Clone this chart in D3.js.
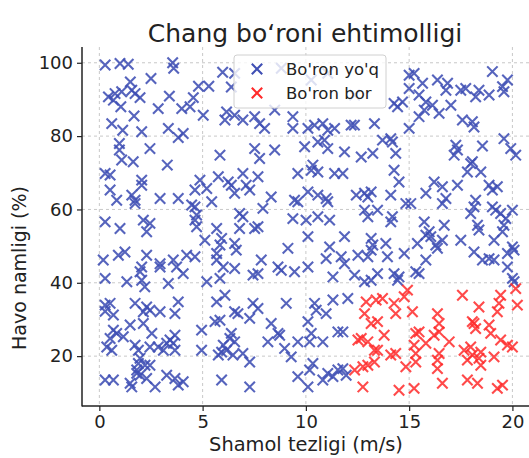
<!DOCTYPE html>
<html>
<head>
<meta charset="utf-8">
<script src="https://cdn.jsdelivr.net/npm/d3@7"></script>
<style>
  body { margin: 0; background: #fff; }
  text { font-family: "DejaVu Sans", sans-serif; fill: #222; }
</style>
</head>
<body>
<div id="chart-area"></div>
<script>
// wind speed (m/s), humidity (%) -- no storm
var noStorm = [
  [0.28,99.4],[1.0,99.8],[1.4,99.6],[3.55,100],[3.6,98.5],[5.97,97.4],[2.5,95.7],[1.5,94.8],[4.8,93.6],[5.3,93.6],
  [0.44,90.7],[0.76,91.6],[1.08,92.1],[1.57,92.5],[1.73,91.6],[1.97,90.5],[0.68,89.8],[3.39,90.9],[4.55,90.5],[1.04,88],
  [2.85,87.5],[3.99,87.5],[4.39,88],[5.03,85.7],[6.16,86.6],[6.08,84.4],[1.68,85.5],[0.6,83.4],[1.13,81.6],[2.05,81.2],
  [3.34,82.1],[3.82,79.6],[4.06,80.7],[0.97,78],[0.97,76.2],[2.45,76.6],[5.84,74.8],[1.08,73.5],[1.64,73],[3.29,72.1],
  [6.55,97.1],[8.81,98.5],[10.26,95.3],[11.06,97.1],[12.36,91.2],[6.39,93.4],
  [6.55,85.7],[6.95,84.4],[7.52,85.3],[7.76,83.4],[8.0,82.1],[8.49,87.1],[9.37,85.3],[9.37,82.1],[10.1,82.1],[10.42,83],
  [10.82,83.4],[11.06,81.6],[11.39,82.1],[12.19,83],[12.35,83],[13.32,83.4],[7.52,76.6],[8.49,76.2],[7.76,73.9],[9.94,77.1],
  [10.58,78.4],[10.9,78.9],[11.06,76.6],[11.87,75.7],[12.68,74.3],[13.24,75.3],[10.34,72.1],
  [19.03,97.6],[15.0,96.6],[15.24,97.1],[15.65,94.4],[16.37,95.3],[16.86,94.4],[15.0,93],[16.78,92.5],[17.5,92.5],[17.74,93],
  [18.22,90.7],[18.38,92.5],[18.87,91.2],[19.52,93.5],[19.76,95.3],[19.59,92.1],[15.48,91.2],[14.27,88.9],[14.68,89.3],[14.44,88],
  [15.81,89.3],[15.73,87.1],[16.13,88.4],[16.45,86.2],[17.02,88.4],[15.48,85.3],[15.0,82.1],[17.58,84.4],[18.06,83.9],[18.14,82.5],
  [13.71,78.9],[14.11,79.3],[14.19,78.4],[14.35,75.3],[17.26,77.5],[17.34,76.2],[17.18,74.8],[18.55,77.3],[19.59,79.3],[19.92,76.6],
  [20.16,74.8],[18.06,73],
  [0.28,69.8],[0.52,69.4],[2.05,68],[2.05,66.6],[0.52,65.3],[0.84,62.5],[1.57,63.9],[1.73,62.5],[1.73,61.6],[2.94,63],
  [3.82,63],[4.63,65.3],[4.87,68],[5.2,65.7],[5.76,68.9],[6.24,67.5],[5.44,62.1],[4.47,61.2],[4.63,60.7],[4.71,58.5],
  [4.63,57.1],[4.71,55.3],[0.28,56.6],[1.0,54.8],[2.13,57.1],[2.45,56.2],[2.29,53.9],[5.68,54.8],[5.92,52.1],[5.11,51.6],
  [5.84,50.3],[0.19,46.2],[0.92,47.5],[1.24,48.4],[2.29,47.5],[2.94,45.2],[2.94,44.3],[2.05,44.3],[1.97,43],[3.58,46.2],
  [3.74,44.3],[4.06,42.5],[4.23,47.5],[4.63,47.1],[5.68,48],[5.68,46.2],[6.0,44.3],[0.28,41.2],[1.33,40.3],[2.05,40.7],
  [5.2,40.3],[5.84,41.2],
  [6.95,69.8],[7.68,68.9],[9.61,69.8],[10.26,70.7],[10.58,70.2],[11.39,69.8],[11.79,69.8],[6.39,66.6],[7.11,66.6],[7.28,65.3],
  [6.55,64.4],[8.32,63.4],[7.92,60.3],[9.45,62.5],[9.61,62.1],[10.1,64.8],[10.58,63.9],[10.98,63],[11.06,62.1],[12.44,63.9],
  [12.84,64.4],[13.16,64.8],[13.0,63.4],[6.79,58.9],[6.95,58],[12.84,59.8],[13.0,58],[9.37,57.5],[10.01,57.1],[10.58,58],
  [11.15,57.1],[6.79,54.8],[7.52,54.8],[7.68,55.3],[10.1,52.6],[11.87,52.6],[6.55,50.7],[6.63,48.9],[9.13,49.4],[11.15,49.8],
  [13.16,52.1],[13.24,50.3],[13.16,48.9],[7.84,46.2],[10.98,46.6],[11.71,47.1],[11.87,45.2],[12.52,47.5],[13.0,47.1],[8.65,44.3],
  [8.81,43.4],[9.45,43],[10.1,44.3],[6.55,43.9],[7.44,42.1],[7.68,42.5],[11.31,41.6],[12.36,42.1],[13.16,40.7],
  [14.27,70.7],[14.51,67.5],[17.98,72.5],[17.82,70.2],[18.47,70.2],[16.21,67.5],[16.61,66.2],[17.34,66.6],[18.87,66.6],[19.27,66.2],
  [19.03,65.3],[14.11,63.9],[15.81,64.4],[16.78,63],[16.61,61.6],[14.84,61.6],[15.08,61.6],[18.22,62.5],[18.14,60.7],[17.98,58.9],
  [19.03,60.7],[19.19,59.8],[19.43,58.9],[20.0,59.8],[19.68,57.5],[13.47,59.8],[14.19,58],[14.11,56.6],[15.73,56.6],[16.7,55.7],
  [15.97,53.9],[15.81,53],[16.05,52.6],[18.31,55.7],[18.38,54.4],[19.59,55.7],[19.52,53.9],[15.4,50.7],[16.29,50.3],[16.61,51.6],
  [16.37,49.4],[17.5,51.6],[19.11,51.6],[20.0,49.8],[20.08,48.9],[19.76,48],[13.87,50.7],[13.95,47.1],[14.76,48],[15.81,46.2],
  [18.14,48.4],[18.55,46.2],[18.87,46.6],[19.11,46.2],[19.76,44.3],[14.27,42.5],[14.51,41.6],[15.32,43],[15.48,42.5],[20.0,41.2],
  [13.47,42.5],
  [2.2,38.9],[3.34,39.8],[0.28,33.9],[0.52,34.4],[0.28,32.2],[0.68,31.2],[1.73,34.4],[2.29,33.4],[2.45,32.5],[2.13,32.1],
  [2.94,32.1],[3.82,34.8],[3.66,31.6],[0.68,27.1],[0.84,26.2],[1.49,28.5],[2.13,28.9],[2.54,26.2],[0.52,24.8],[1.16,25.3],
  [0.36,22.5],[0.6,21.6],[1.73,23],[1.89,21.6],[1.97,19.4],[2.45,22.5],[2.85,22.5],[3.26,23.5],[3.42,24.4],[3.66,25.7],
  [3.58,23.5],[3.66,21.6],[3.1,21.6],[1.89,18],[2.21,17.5],[2.45,17.5],[1.81,16.2],[1.81,15.3],[0.28,13.5],[0.68,13.5],
  [1.49,12.6],[1.57,11.6],[1.97,14.8],[2.29,13.9],[2.7,11.6],[3.26,14.8],[3.66,13.9],[3.82,12.1],[4.06,13],[4.95,27.1],
  [4.95,21.6],[5.68,34.8],[6.08,36.6],[5.6,29.4],[5.84,29.8],[5.92,21.1],[5.76,20.3],[6.16,21.6],[6.0,23],[5.92,13.5],
  [6.32,24.8],
  [12.84,40.3],[7.44,34.4],[7.68,33],[6.55,32.1],[6.71,31.6],[7.28,30.3],[9.05,34.4],[10.42,34.4],[10.5,32.5],[10.98,31.6],
  [11.31,35.3],[12.03,35.7],[8.32,28.9],[8.65,26.2],[10.1,29.4],[6.39,26.2],[6.55,23.9],[8.16,23.9],[8.73,25.7],[9.61,23.9],
  [10.26,26.2],[10.18,23.9],[10.82,23.9],[11.55,26.6],[11.79,26.6],[6.47,20.3],[6.95,20.7],[7.28,18.4],[8.97,22.1],[9.29,19.8],
  [10.34,18],[10.18,16.2],[9.61,14.4],[10.1,11.6],[7.28,11.6],[10.82,13.5],[11.31,14.4],[11.06,15.3],[11.55,16.2],[11.79,16.6],
  [11.95,14.8],[20.08,40.3],[14.44,40.7]
];

// storm
var storm = [
  [12.92,34.8],[13.4,35.3],[12.84,31.6],[13.16,28.9],[12.52,24.4],[12.68,24.8],[13.0,23.9],[13.32,21.6],[13.0,17.5],[12.76,17.1],
  [12.36,16.2],[12.76,11.6],[13.32,18.4],
  [13.71,35.7],[14.27,34.4],[14.35,31.6],[14.76,36.2],[14.92,38],[15.16,32.1],[13.47,29.4],[13.79,25.7],[13.47,21.6],[14.11,20.3],
  [14.35,20.7],[14.84,17.1],[15.32,18.4],[15.24,23],[15.48,26.6],[15.81,23.5],[16.21,25.7],[16.37,31.6],[16.45,28.9],[16.45,26.6],
  [16.37,18.9],[16.37,16.6],[16.45,20.7],[16.61,12.6],[16.94,23.9],[14.51,10.7],[15.24,11.2],[15.32,20.7],[17.58,36.6],[18.38,33.4],
  [18.06,29.4],[18.14,28.9],[18.22,27.5],[18.87,28.5],[18.95,26.2],[17.66,21.6],[17.98,22.5],[18.06,20.3],[17.82,18.9],[18.47,21.1],
  [18.38,19.4],[18.47,17.5],[19.11,19.8],[19.43,24.4],[19.76,23],[20.0,22.5],[19.43,36.6],[19.35,34.4],[19.27,32.1],[20.24,33.9],
  [20.16,38.4],[17.82,13.5],[18.31,12.6],[19.27,11.2],[19.52,12.1],[15.32,26.2]
];

var xTicks = [0, 5, 10, 15, 20];
var yTicks = [20, 40, 60, 80, 100];
var legendLabels = ["Bo'ron yo'q", "Bo'ron bor"];
var colors = ['#3f4fb4', '#ff2a2a'];

var width = 529, height = 458;
var margin = { left: 82, right: 531, top: 47, bottom: 406 };

var svg = d3.select('#chart-area')
  .append('svg')
  .attr('width', width)
  .attr('height', height);

var x = d3.scaleLinear().domain([-0.84, 20.9]).range([margin.left, margin.right]);
var y = d3.scaleLinear().domain([6.4, 104.3]).range([margin.bottom, margin.top]);

// grid
svg.append('g').selectAll('line')
  .data(xTicks).enter().append('line')
  .attr('x1', function(d) { return x(d); })
  .attr('x2', function(d) { return x(d); })
  .attr('y1', margin.top).attr('y2', margin.bottom)
  .attr('stroke', '#c8c8c8').attr('stroke-width', 1)
  .attr('stroke-dasharray', '3,3');

svg.append('g').selectAll('line')
  .data(yTicks).enter().append('line')
  .attr('y1', function(d) { return y(d); })
  .attr('y2', function(d) { return y(d); })
  .attr('x1', margin.left).attr('x2', margin.right)
  .attr('stroke', '#c8c8c8').attr('stroke-width', 1)
  .attr('stroke-dasharray', '3,3');

// markers
var r = 5.2;
var xPath = 'M' + -r + ',' + -r + 'L' + r + ',' + r + 'M' + -r + ',' + r + 'L' + r + ',' + -r;

function drawPoints(data, color, op) {
  svg.append('g').selectAll('path')
    .data(data).enter().append('path')
    .attr('d', xPath)
    .attr('transform', function(d) { return 'translate(' + x(d[0]) + ',' + y(d[1]) + ')'; })
    .attr('fill', 'none')
    .attr('stroke', color)
    .attr('stroke-width', 2.1)
    .attr('opacity', op);
}
drawPoints(noStorm, colors[0], 0.88);
drawPoints(storm, colors[1], 0.85);

// axes
var xAxis = svg.append('g')
  .attr('transform', 'translate(0,' + margin.bottom + ')')
  .call(d3.axisBottom(x).tickValues(xTicks).tickSize(5).tickPadding(4).tickFormat(d3.format('d')));
var yAxis = svg.append('g')
  .attr('transform', 'translate(' + margin.left + ',0)')
  .call(d3.axisLeft(y).tickValues(yTicks).tickSize(5).tickPadding(4).tickFormat(d3.format('d')));

[xAxis, yAxis].forEach(function(a) {
  a.selectAll('text').attr('font-size', '18px').attr('font-family', '"DejaVu Sans", sans-serif').attr('fill', '#222');
  a.selectAll('line').attr('stroke', '#222').attr('stroke-width', 1.2);
  a.select('.domain').remove();
});

svg.append('line').attr('x1', margin.left).attr('x2', margin.left)
  .attr('y1', margin.top).attr('y2', margin.bottom + 0.6)
  .attr('stroke', '#222').attr('stroke-width', 1.5);
svg.append('line').attr('x1', margin.left).attr('x2', margin.right)
  .attr('y1', margin.bottom).attr('y2', margin.bottom)
  .attr('stroke', '#222').attr('stroke-width', 1.5);

// labels
svg.append('text')
  .attr('x', 305).attr('y', 42)
  .attr('text-anchor', 'middle')
  .attr('font-size', '25px')
  .text('Chang bo\u2018roni ehtimolligi');

svg.append('text')
  .attr('x', 306).attr('y', 451)
  .attr('text-anchor', 'middle')
  .attr('font-size', '19.4px')
  .text('Shamol tezligi (m/s)');

svg.append('text')
  .attr('transform', 'translate(26,268) rotate(-90)')
  .attr('text-anchor', 'middle')
  .attr('font-size', '19px')
  .text('Havo namligi (%)');

// legend
var lg = svg.append('g');
lg.append('rect')
  .attr('x', 234).attr('y', 55).attr('width', 152).attr('height', 53)
  .attr('rx', 3)
  .attr('fill', '#fff').attr('fill-opacity', 0.8)
  .attr('stroke', '#d0d0d0');
legendLabels.forEach(function(lbl, i) {
  lg.append('path')
    .attr('d', xPath)
    .attr('transform', 'translate(257,' + (69 + i * 24) + ')')
    .attr('fill', 'none')
    .attr('stroke', colors[i])
    .attr('stroke-width', 2.1);
  lg.append('text')
    .attr('x', 286).attr('y', 75 + i * 24)
    .attr('font-size', '16.5px')
    .text(lbl);
});
</script>
</body>
</html>
